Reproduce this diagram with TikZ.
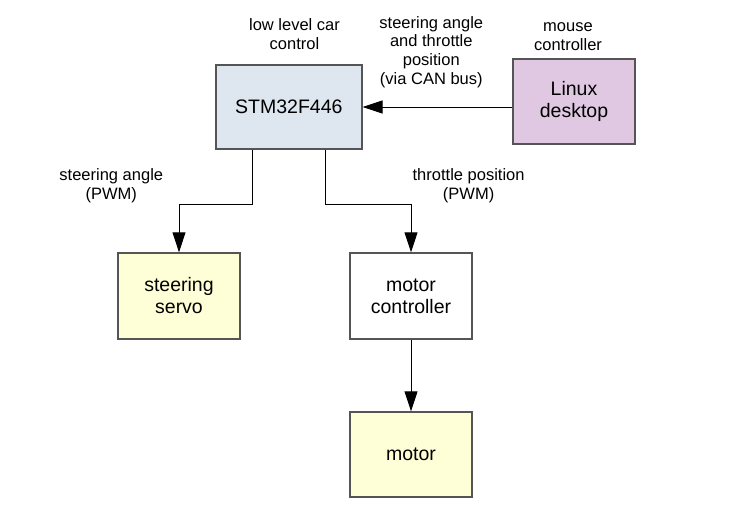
\documentclass[tikz,border=0pt]{standalone}
\usepackage{fontspec}
\setmainfont{Liberation Sans}
\usetikzlibrary{arrows.meta,positioning}
\definecolor{stmblue}{HTML}{DEE6EF}
\definecolor{linuxviolet}{HTML}{E0C8E2}
\definecolor{partyellow}{HTML}{FFFFD7}
\definecolor{boxgray}{HTML}{555555}
\tikzset{>={Triangle[length=20pt,width=13pt]}}
\tikzset{block/.style={draw=boxgray, line width=1.4pt, inner sep=0pt, align=center,
                       font=\fontsize{19.5}{22}\selectfont}}
\tikzset{note/.style={inner sep=0pt, align=center, font=\fontsize{16.5}{18.6}\selectfont}}
\tikzset{link/.style={->, line width=1pt}}

\begin{document}
\begin{tikzpicture}[x=1pt,y=-1pt]
      \useasboundingbox (0,0) rectangle (751,504);
      % boxes
      \node[block, fill=stmblue, minimum width=146pt, minimum height=84pt] (stm) at (288.8,107) {STM32F446};
      \node[block, fill=linuxviolet, minimum width=122pt, minimum height=85pt] (linux) at (574,101.5) {Linux\\desktop};
      \node[block, fill=partyellow, minimum width=122pt, minimum height=86pt] (servo) at (179,296) {steering\\servo};
      \node[block, fill=white, minimum width=122pt, minimum height=86pt] (motorctl) at (411,296) {motor\\controller};
      \node[block, fill=partyellow, minimum width=122pt, minimum height=85pt] (motor) at (411,454.5) {motor};
      % labels
      \node[note] (stmlabel) at (294.5,33.8) {low level car\\control};
      \node[note] (canlabel) at (431.3,52) {steering angle\\and throttle\\position\\(via CAN bus)};
      \node[note] (linuxlabel) at (568,36.5) {mouse\\controller};
      \node[note] (servolabel) at (111.3,185.5) {steering angle\\(PWM)};
      \node[note] (motorlabel) at (468.6,185.5) {throttle position\\(PWM)};
      % connectors
      \draw[link] (stm.east -| linux.west) -- (stm.east);
      \draw[link] ([xshift=-36.5pt]stm.south) -- ++(0,55) -| (servo.north);
      \draw[link] ([xshift=36.5pt]stm.south) -- ++(0,55) -| (motorctl.north);
      \draw[link] (motorctl.south) -- (motor.north);
    \end{tikzpicture}
\end{document}
